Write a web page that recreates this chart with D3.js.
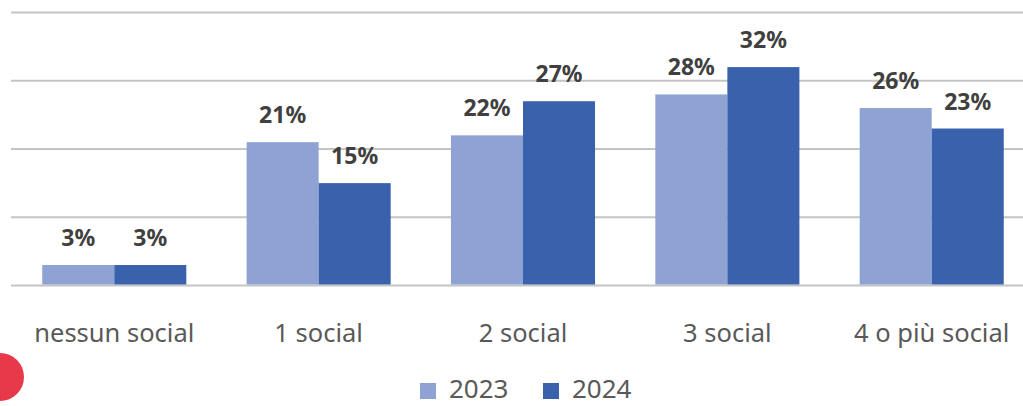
<!DOCTYPE html>
<html>
<head>
<meta charset="utf-8">
<script src="https://cdn.jsdelivr.net/npm/d3@7"></script>
<style>
  html, body { margin: 0; padding: 0; background: #fff; overflow: hidden; }
  svg { display: block; font-family: "Noto Sans", "Open Sans", sans-serif; }
</style>
</head>
<body>
<svg id="chart" width="1023" height="406"></svg>
<script>
// Number of social networks used, share of respondents by year
const categories = ["nessun social", "1 social", "2 social", "3 social", "4 o più social"];
const years = ["2023", "2024"];
const values2023 = [3, 21, 22, 28, 26];
const values2024 = [3, 15, 27, 32, 23];
const yTicks = [0, 10, 20, 30, 40];

const colors = { "2023": "#8ea3d4", "2024": "#3a61ab" };
const seriesValues = { "2023": values2023, "2024": values2024 };

const svg = d3.select("#chart");
const W = 1023;

const x0 = d3.scaleBand().domain(categories).range([12, 1034]).paddingInner(0.295).paddingOuter(0.148);
const x1 = d3.scaleBand().domain(years).range([0, x0.bandwidth()]).padding(0);
const y = d3.scaleLinear().domain([0, 40]).range([285.5, 12.5]);

// horizontal gridlines
svg.append("g").selectAll("line").data(yTicks).join("line")
  .attr("x1", 11).attr("x2", W)
  .attr("y1", d => y(d)).attr("y2", d => y(d))
  .attr("stroke", "#c4c4c4").attr("stroke-width", 2);

// bars
const groups = svg.append("g").selectAll("g").data(categories).join("g")
  .attr("transform", d => `translate(${x0(d)},0)`);

groups.selectAll("rect").data((c, i) => years.map(yr => ({ yr, v: seriesValues[yr][i] })))
  .join("rect")
  .attr("x", d => x1(d.yr))
  .attr("width", x1.bandwidth())
  .attr("y", d => y(d.v))
  .attr("height", d => y(0) - 1 - y(d.v))
  .attr("fill", d => colors[d.yr]);

// value labels
groups.selectAll("text").data((c, i) => years.map(yr => ({ yr, v: seriesValues[yr][i] })))
  .join("text")
  .attr("x", d => x1(d.yr) + x1.bandwidth() / 2)
  .attr("y", d => y(d.v) - 19)
  .attr("text-anchor", "middle")
  .attr("font-size", 23)
  .attr("font-weight", 700)
  .attr("fill", "#404040")
  .text(d => d.v + "%");

// category axis labels
svg.append("g").selectAll("text").data(categories).join("text")
  .attr("x", d => x0(d) + x0.bandwidth() / 2)
  .attr("y", 342)
  .attr("text-anchor", "middle")
  .attr("font-size", 25.5)
  .attr("fill", "#595959")
  .text(d => d);

// legend
const legendX = [420, 543];
const legend = svg.append("g").selectAll("g").data(years).join("g")
  .attr("transform", (d, i) => `translate(${legendX[i]},0)`);
legend.append("rect").attr("x", 0).attr("y", 383).attr("width", 16).attr("height", 16)
  .attr("fill", d => colors[d]);
legend.append("text").attr("x", 29).attr("y", 398)
  .attr("font-size", 26).attr("fill", "#595959").text(d => d);

// red page marker in the corner
svg.append("circle").attr("cx", 0).attr("cy", 377).attr("r", 24).attr("fill", "#e8394a");
</script>
</body>
</html>
